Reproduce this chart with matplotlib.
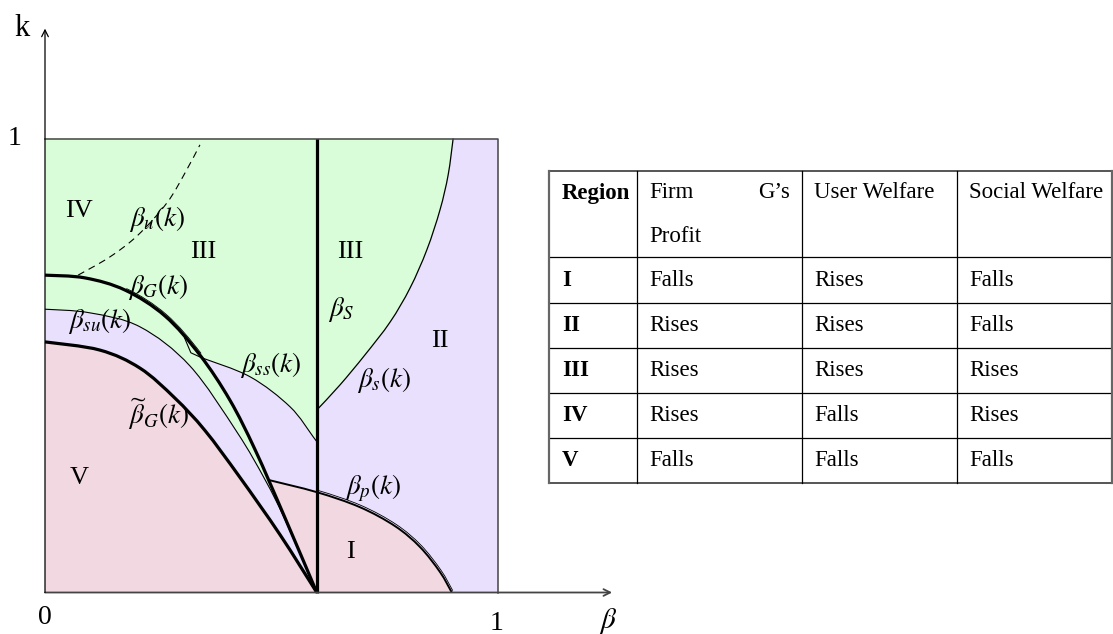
import numpy as np
import matplotlib.pyplot as plt
from matplotlib import transforms
from matplotlib.path import Path
from matplotlib.patches import PathPatch

plt.rcParams['font.family'] = ['Liberation Serif', 'DejaVu Serif']
plt.rcParams['mathtext.fontset'] = 'stix'

# boundary curves in the (beta, k) plane
bG_x = [0.0, 0.088, 0.177, 0.265, 0.342, 0.408, 0.464, 0.530, 0.600]
bG_y = [0.699, 0.693, 0.666, 0.609, 0.523, 0.424, 0.314, 0.164, 0.0]

bGt_x = [0.0, 0.121, 0.210, 0.287, 0.353, 0.430, 0.519, 0.600]
bGt_y = [0.552, 0.534, 0.494, 0.428, 0.357, 0.254, 0.127, 0.0]

bsu_x = [0.0, 0.099, 0.210, 0.320, 0.424, 0.486, 0.530, 0.600]
bsu_y = [0.624, 0.616, 0.585, 0.499, 0.353, 0.248, 0.160, 0.0]

bss_x = [0.308, 0.322, 0.346, 0.453, 0.541, 0.592, 0.600]
bss_y = [0.561, 0.528, 0.517, 0.475, 0.409, 0.343, 0.332]

bs_x = [0.600, 0.651, 0.706, 0.762, 0.806, 0.843, 0.872, 0.890, 0.901]
bs_y = [0.402, 0.457, 0.523, 0.596, 0.671, 0.755, 0.843, 0.920, 1.0]

bp_x = [0.493, 0.600, 0.695, 0.773, 0.828, 0.872, 0.898]
bp_y = [0.248, 0.221, 0.188, 0.146, 0.100, 0.045, 0.0]

bu_x = [0.073, 0.143, 0.205, 0.269, 0.309, 0.342]
bu_y = [0.699, 0.739, 0.787, 0.858, 0.924, 0.986]

beta_S = 0.6

# table contents
tab_header = ['Region', 'Firm G’s Profit', 'User Welfare', 'Social Welfare']
tab_regions = ['I', 'II', 'III', 'IV', 'V']
tab_profit = ['Falls', 'Rises', 'Rises', 'Rises', 'Falls']
tab_user = ['Rises', 'Rises', 'Rises', 'Falls', 'Falls']
tab_social = ['Falls', 'Falls', 'Rises', 'Rises', 'Falls']

GREEN = '#d9fcd9'
PURPLE = '#e8e0fc'
PINK = '#f2d8e0'


def segments(xs, ys):
    """Catmull-Rom through the points, returned as cubic Bezier pieces."""
    p = np.column_stack([xs, ys]).astype(float)
    ext = np.vstack([p[0], p, p[-1]])
    out = []
    for i in range(len(p) - 1):
        p0, p1, p2, p3 = ext[i], ext[i + 1], ext[i + 2], ext[i + 3]
        out.append((p1, p1 + (p2 - p0) / 6, p2 - (p3 - p1) / 6, p2))
    return out


def rev(segs):
    return [(b, c2, c1, a) for a, c1, c2, b in reversed(segs)]


def build(pieces, close=False):
    verts, codes = [], []
    for kind, data in pieces:
        if kind == 'L':
            for q in data:
                verts.append(q)
                codes.append(Path.LINETO)
        else:
            for a, c1, c2, b in data:
                if not verts or not np.allclose(verts[-1], a):
                    verts.append(a)
                    codes.append(Path.LINETO)
                verts += [c1, c2, b]
                codes += [Path.CURVE4] * 3
    codes[0] = Path.MOVETO
    if close:
        verts.append(verts[0])
        codes.append(Path.CLOSEPOLY)
    return Path(verts, codes)


sG = segments(bG_x, bG_y)
sGt = segments(bGt_x, bGt_y)
ssu = segments(bsu_x, bsu_y)
sss = segments(bss_x[2:], bss_y[2:])
ss = segments(bs_x, bs_y)
sp = segments(bp_x, bp_y)
su = segments(bu_x, bu_y)

fig = plt.figure(figsize=(11.13, 6.34), dpi=100)
ax = fig.add_axes([0, 0, 1, 1])
ax.set_xlim(-45 / 453, 1068 / 453)
ax.set_ylim(-41.5 / 454, 592.5 / 454)
ax.axis('off')


def fill(path, color):
    ax.add_patch(PathPatch(path, facecolor=color, edgecolor='none', lw=0))


def stroke(path, lw, ls='-', transform=None):
    ax.add_patch(PathPatch(path, facecolor='none', edgecolor='black', lw=lw,
                           linestyle=ls, capstyle='butt',
                           transform=transform if transform else ax.transData))


# region fills
ax.fill([0, 1, 1, 0], [0, 0, 1, 1], color=PURPLE, lw=0)
fill(build([('L', [(0, 1), (beta_S, 1)]), ('C', rev(sss)), ('C', sG[4:]),
            ('C', rev(ssu))], close=True), GREEN)
fill(build([('L', [(beta_S, 1), (bs_x[-1], 1)]), ('C', rev(ss))], close=True), GREEN)
fill(build([('L', [(0, 0), (0, bGt_y[0])]), ('C', sGt)], close=True), PINK)
fill(build([('C', sp), ('L', [(beta_S, 0)])], close=True), PINK)

# frame
ax.plot([0, 1, 1], [1, 1, 0], color='#444444', lw=1.1)

# curves
stroke(build([('C', ssu)]), 0.8)
ax.plot(bss_x[:3], bss_y[:3], color='black', lw=0.8)
stroke(build([('C', sss)]), 0.8)
stroke(build([('C', ss)]), 0.9)
stroke(build([('C', su)]), 0.8, ls=(0, (6.3, 4.5)))
stroke(build([('C', sp)]), 1.4)
shift = transforms.offset_copy(ax.transData, fig=fig, x=1.0, y=1.8, units='dots')
stroke(build([('C', sp[1:])]), 0.6, transform=shift)
shift2 = transforms.offset_copy(ax.transData, fig=fig, x=1.2, y=1.6, units='dots')
stroke(build([('C', sG[2:4])]), 0.6, transform=shift2)
stroke(build([('C', sG)]), 2.3)
stroke(build([('C', sGt)]), 2.3)
ax.plot([beta_S, beta_S], [0, 1], color='black', lw=2.3, solid_capstyle='butt')

# axes with arrows
ax.annotate('', xy=(1.252, 0), xytext=(0, 0),
            arrowprops=dict(arrowstyle='->', color='#444444', lw=1.3,
                            shrinkA=0, shrinkB=0, mutation_scale=12))
ax.annotate('', xy=(0, 1.242), xytext=(0, 0),
            arrowprops=dict(arrowstyle='->', color='black', lw=0.9,
                            shrinkA=0, shrinkB=0, mutation_scale=12))

ax.text(-0.05, 1.242, 'k', fontsize=22, ha='center', va='center')
ax.text(-0.068, 1.0, '1', fontsize=20, ha='center', va='center')
ax.text(0, -0.055, '0', fontsize=20, ha='center', va='center')
ax.text(0.996, -0.068, '1', fontsize=20, ha='center', va='center')
ax.text(1.243, -0.062, r'$\beta$', fontsize=21, ha='center', va='center')

# region labels
for s, x, y in [('IV', 0.075, 0.841), ('III', 0.350, 0.751), ('III', 0.674, 0.751),
                ('II', 0.872, 0.553), ('I', 0.674, 0.090), ('V', 0.075, 0.252)]:
    ax.text(x, y, s, fontsize=19, ha='center', va='center')

# curve labels
for s, x, y in [(r'$\beta_u(k)$', 0.248, 0.822), (r'$\beta_G(k)$', 0.250, 0.674),
                (r'$\beta_{su}(k)$', 0.122, 0.597), (r'$\beta_{ss}(k)$', 0.499, 0.500),
                (r'$\widetilde{\beta}_G(k)$', 0.250, 0.393), (r'$\beta_S$', 0.653, 0.623),
                (r'$\beta_s(k)$', 0.748, 0.467), (r'$\beta_p(k)$', 0.724, 0.229)]:
    ax.text(x, y, s, fontsize=19.5, ha='center', va='center')

# table drawn in pixel coordinates
tx = fig.add_axes([0, 0, 1, 1])
tx.set_xlim(0, 1113)
tx.set_ylim(634, 0)
tx.axis('off')

col_x = [549, 637, 802, 957, 1112]
row_y = [171, 257, 303, 348, 393, 438, 483]
for y in row_y:
    edge = y in (row_y[0], row_y[-1])
    tx.plot([col_x[0], col_x[-1]], [y, y], color='#555555' if edge else 'black',
            lw=1.4 if edge else 0.9)
for x in col_x:
    edge = x in (col_x[0], col_x[-1])
    tx.plot([x, x], [row_y[0], row_y[-1]], color='#666666' if edge else 'black',
            lw=1.6 if edge else 0.9)

fs = 16.5
pad = 12
tx.text(col_x[0] + pad + 1, 193, tab_header[0], fontsize=fs, fontweight='bold', va='center')
firm, gs, prof = tab_header[1].split(' ')
tx.text(col_x[1] + pad, 193, firm, fontsize=fs, va='center')
tx.text(col_x[2] - pad, 193, gs, fontsize=fs, va='center', ha='right')
tx.text(col_x[1] + pad, 236, prof, fontsize=fs, va='center')
tx.text(col_x[2] + pad, 193, tab_header[2], fontsize=fs, va='center')
tx.text(col_x[3] + pad, 193, tab_header[3], fontsize=fs, va='center')

for i, (r, a, b, c) in enumerate(zip(tab_regions, tab_profit, tab_user, tab_social)):
    yc = (row_y[i + 1] + row_y[i + 2]) / 2
    tx.text(col_x[0] + pad + 1, yc, r, fontsize=fs, fontweight='bold', va='center')
    tx.text(col_x[1] + pad, yc, a, fontsize=fs, va='center')
    tx.text(col_x[2] + pad, yc, b, fontsize=fs, va='center')
    tx.text(col_x[3] + pad, yc, c, fontsize=fs, va='center')

fig.savefig('out.png', dpi=100)
